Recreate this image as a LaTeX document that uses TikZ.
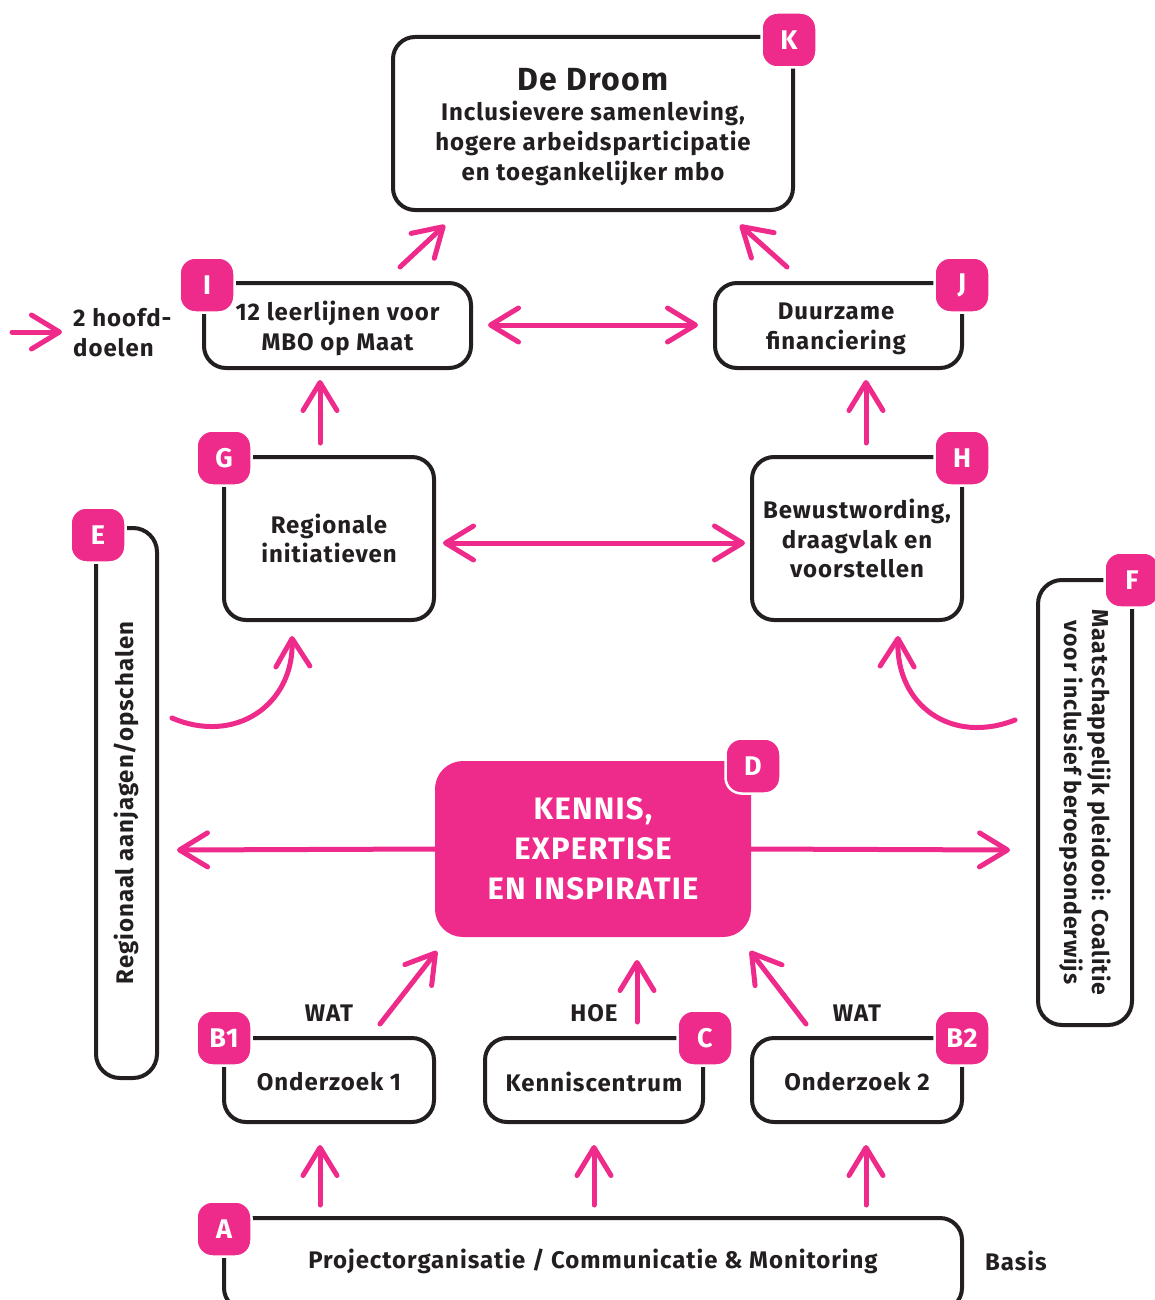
\documentclass[tikz,border=0pt]{standalone}
\usepackage{fontspec}
\setmainfont{Fira Sans}[LetterSpace=4]
\usetikzlibrary{arrows.meta}
\definecolor{pk}{HTML}{EE2A8B}
\definecolor{ink}{HTML}{231F20}
\tikzset{
  box/.style={draw=ink, line width=4pt, rounded corners=22pt, fill=white, align=center,
    font=\fontsize{24}{29.5}\selectfont\bfseries, text=ink, inner sep=0pt},
  badge/.style={fill=pk, draw=white, line width=2.5pt, rounded corners=16pt,
    minimum width=55pt, minimum height=55pt, text=white,
    font=\fontsize{27}{27}\selectfont\bfseries, inner sep=0pt},
  barb/.tip={Straight Barb[length=28pt,width=34pt,line cap=round,line join=round]},
  parr/.style={draw=pk, line width=5pt, line cap=round, -barb},
  darr/.style={draw=pk, line width=5pt, line cap=round, barb-barb},
  lbl/.style={text=ink, font=\fontsize{24}{30}\selectfont\bfseries, inner sep=0pt},
}
\begin{document}
\begin{tikzpicture}[x=1pt,y=-1pt]
\useasboundingbox (0,0) rectangle (1155,1300);

% boxes
\node[box, minimum width=400pt, minimum height=173pt] (K) at (593,123.5) {};
\node[lbl, align=center, font=\fontsize{24}{29.8}\selectfont\bfseries] (Kt) at (593,127)
  {{\fontsize{32}{38}\selectfont De Droom}\\Inclusievere samenleving,\\hogere arbeidsparticipatie\\en toegankelijker mbo};
\node[box, minimum width=267pt, minimum height=85pt] (I) at (337.5,325.5) {};
\node[lbl, align=center] (It) at (337.5,328) {12 leerlijnen voor\\MBO op Maat};
\node[box, minimum width=247pt, minimum height=85pt] (J) at (838.5,325.5) {};
\node[lbl, align=center] (Jt) at (836,329) {Duurzame\\financiering};
\node[box, minimum width=210pt, minimum height=163pt] (G) at (329,538.5) {Regionale\\initiatieven};
\node[box, minimum width=210pt, minimum height=163pt] (H) at (857,538.5) {Bewustwording,\\draagvlak en\\voorstellen};
\node[box, minimum width=550pt, minimum height=61pt, rotate=90, rounded corners=24pt] (E) at (126.5,803)
  {Regionaal aanjagen/opschalen};
\node[box, minimum width=445pt, minimum height=94pt, rotate=-90, rounded corners=24pt,
  font=\fontsize{23}{28}\selectfont\bfseries] (F) at (1085,802.5)
  {Maatschappelijk pleidooi: Coalitie\\voor inclusief beroepsonderwijs};
\node[box, draw=pk, fill=pk, text=white, minimum width=312pt, minimum height=172pt, rounded corners=26pt,
  font=\fontsize{31}{40}\selectfont\bfseries] (D) at (593,849)
  {KENNIS,\\EXPERTISE\\EN INSPIRATIE};
\node[box, minimum width=210pt, minimum height=84pt] (B1) at (329,1080) {};
\node[lbl] (B1t) at (329,1082) {Onderzoek 1};
\node[box, minimum width=218pt, minimum height=84pt] (C) at (594,1080) {};
\node[lbl] (Ct) at (594,1082) {Kenniscentrum};
\node[box, minimum width=210pt, minimum height=84pt] (B2) at (857,1080) {};
\node[lbl] (B2t) at (857,1082) {Onderzoek 2};
\node[box, minimum width=738pt, minimum height=92pt] (A) at (593,1264) {};
\node[lbl] (At) at (593,1261) {Projectorganisatie / Communicatie \& Monitoring};

% badges
\node[badge] (Kb) at (789,40) {K};
\node[badge] (Ib) at (207,285) {I};
\node[badge] (Jb) at (962,285) {J};
\node[badge] (Gb) at (224,458) {G};
\node[badge] (Hb) at (962,458) {H};
\node[badge] (Eb) at (98,535) {E};
\node[badge] (Fb) at (1132,580) {F};
\node[badge] (Db) at (753,766) {D};
\node[badge] (B1b) at (224,1038) {B1};
\node[badge] (Cb) at (705,1038) {C};
\node[badge] (B2b) at (962,1038) {B2};
\node[badge] (Ab) at (224,1229) {A};

% labels
\node[lbl, align=left, anchor=west] (hd) at (73,333) {2 hoofd-\\doelen};
\node[lbl, anchor=west] (basis) at (985,1261) {Basis};
\node[lbl] (wat1) at (329,1013) {WAT};
\node[lbl] (hoe) at (594,1013) {HOE};
\node[lbl] (wat2) at (857,1013) {WAT};

% arrow end points
\coordinate (l0) at (12,332);   \coordinate (l1) at (62,332);
\coordinate (ik0) at (400,267); \coordinate (ik1) at (445,225);
\coordinate (jk0) at (787,267); \coordinate (jk1) at (740,225);
\coordinate (ij0) at (488,325); \coordinate (ij1) at (698,325);
\coordinate (gi0) at (320,443); \coordinate (gi1) at (320,380);
\coordinate (hj0) at (866,443); \coordinate (hj1) at (866,380);
\coordinate (gh0) at (443,543); \coordinate (gh1) at (745,543);
\coordinate (eg0) at (172,718); \coordinate (eg1) at (292,636);
\coordinate (fh0) at (1015,720); \coordinate (fh1) at (898,636);
\coordinate (de1) at (177,850);
\coordinate (df1) at (1010,850);
\coordinate (bd0) at (380,1024); \coordinate (bd1) at (437,951);
\coordinate (cd0) at (637,1022); \coordinate (cd1) at (637,960);
\coordinate (b2d0) at (806,1024); \coordinate (b2d1) at (750,951);
\coordinate (a10) at (320,1205); \coordinate (a11) at (320,1145);
\coordinate (a20) at (594,1205); \coordinate (a21) at (594,1145);
\coordinate (a30) at (866,1205); \coordinate (a31) at (866,1145);

% arrows
\draw[parr] (l0) -- (l1);
\draw[parr] (ik0) -- (ik1);
\draw[parr] (jk0) -- (jk1);
\draw[darr] (ij0) -- (ij1);
\draw[parr] (gi0) -- (gi1);
\draw[parr] (hj0) -- (hj1);
\draw[darr] (gh0) -- (gh1);
\draw[parr] (eg0) .. controls (235,745) and (294,705) .. (eg1);
\draw[parr] (fh0) .. controls (951,745) and (896,705) .. (fh1);
\draw[parr] (D.west) -- (de1);
\draw[parr] (D.east) -- (df1);
\draw[parr] (bd0) -- (bd1);
\draw[parr] (cd0) -- (cd1);
\draw[parr] (b2d0) -- (b2d1);
\draw[parr] (a10) -- (a11);
\draw[parr] (a20) -- (a21);
\draw[parr] (a30) -- (a31);
\end{tikzpicture}
\end{document}
